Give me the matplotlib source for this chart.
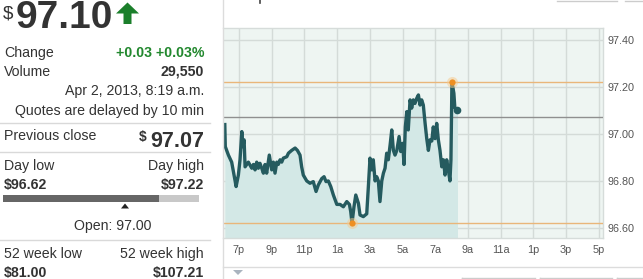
import matplotlib
matplotlib.use("Agg")
import matplotlib.pyplot as plt
from matplotlib.patches import Polygon, Rectangle
from matplotlib.lines import Line2D

plt.rcParams["font.family"] = ["Liberation Sans", "DejaVu Sans"]

W, H = 643, 279

# quote panel values
price = "97.10"
change_txt = "+0.03 +0.03%"
volume = "29,550"
stamp = "Apr 2, 2013, 8:19 a.m."
prev_close = 97.07
day_low, day_high = 96.62, 97.22
open_price = 97.00
wk52_low, wk52_high = 81.00, 107.21

# intraday series: hours since midnight of the previous day
hours = [18.13, 18.16, 18.35, 18.55, 18.76, 18.82, 18.96, 19.06, 19.17, 19.23,
         19.31, 19.37, 19.57, 19.78, 19.88, 19.98, 20.08, 20.18, 20.28, 20.39,
         20.49, 20.59, 20.69, 20.85, 21.00, 21.10, 21.20, 21.31, 21.40, 21.51,
         21.61, 21.71, 21.92, 22.02, 22.22, 22.43, 22.57, 22.73, 22.83, 22.93,
         23.14, 23.34, 23.54, 23.71, 23.85, 24.06, 24.20, 24.32, 24.46, 24.61,
         24.77, 24.98, 25.18, 25.38, 25.59, 25.75, 25.83, 25.91, 26.03, 26.14,
         26.30, 26.40, 26.60, 26.81, 26.91, 27.01, 27.12, 27.21, 27.32, 27.42,
         27.52, 27.62, 27.73, 27.83, 27.93, 28.03, 28.13, 28.24, 28.34, 28.44,
         28.54, 28.65, 28.79, 28.89, 29.01, 29.09, 29.17, 29.26, 29.35, 29.46,
         29.56, 29.66, 29.76, 29.87, 29.97, 30.07, 30.17, 30.27, 30.38, 30.48,
         30.58, 30.68, 30.79, 30.88, 30.99, 31.09, 31.19, 31.29, 31.40, 31.50,
         31.60, 31.70, 31.80, 31.90, 31.96, 32.02, 32.14, 32.20, 32.36]
prices = [97.04, 96.946, 96.91, 96.88, 96.80, 96.776, 96.825, 96.89, 97.01, 96.946,
          96.975, 96.86, 96.88, 96.854, 96.87, 96.847, 96.88, 96.854, 96.875, 96.854,
          96.833, 96.87, 96.833, 96.91, 96.847, 96.88, 96.833, 96.88, 96.87, 96.89,
          96.88, 96.897, 96.903, 96.918, 96.93, 96.94, 96.93, 96.91, 96.86, 96.825,
          96.80, 96.79, 96.797, 96.755, 96.783, 96.81, 96.818, 96.797, 96.80, 96.776,
          96.74, 96.70, 96.70, 96.69, 96.712, 96.70, 96.67, 96.62, 96.69, 96.74,
          96.705, 96.655, 96.648, 96.66, 96.776, 96.897, 96.847, 96.89, 96.80, 96.818,
          96.80, 96.712, 96.80, 96.833, 96.854, 96.918, 96.89, 96.953, 97.017, 96.93,
          96.91, 96.93, 96.989, 96.925, 96.96, 96.87, 97.03, 97.095, 97.017, 97.145,
          97.11, 97.145, 97.13, 97.152, 97.166, 97.123, 97.145, 97.123, 97.045, 96.98,
          96.93, 96.975, 96.97, 97.03, 96.98, 97.045, 96.975, 96.93, 96.86, 96.89,
          96.825, 96.89, 96.847, 96.80, 96.89, 97.222, 97.173, 97.11, 97.10]

x_ticks = [19, 21, 23, 25, 27, 29, 31, 33, 35, 37, 39, 41]
x_labels = ["7p", "9p", "11p", "1a", "3a", "5a", "7a", "9a", "11a", "1p", "3p", "5p"]
y_ticks = [96.60, 96.80, 97.00, 97.20, 97.40]

fig = plt.figure(figsize=(W / 100, H / 100), dpi=100)
fig.patch.set_facecolor("white")


def fx(x):
    return x / W


def fy(y):
    return 1 - y / H


def txt(x, y, s, ha="left", size=10.2, weight="normal", color="#333333"):
    fig.text(fx(x), fy(y), s, ha=ha, va="baseline", fontsize=size,
             fontweight=weight, color=color)


def hline(x0, x1, y, color="#d9d9d9", lw=1.0):
    fig.add_artist(Line2D([fx(x0), fx(x1)], [fy(y), fy(y)], color=color, lw=lw))


def vline(x, y0, y1, color="#d9d9d9", lw=1.0):
    fig.add_artist(Line2D([fx(x), fx(x)], [fy(y0), fy(y1)], color=color, lw=lw))


# ---- quote panel ----
green = "#22882e"
txt(3, 18.5, "$", size=13.5, color="#333333")
txt(16, 28.3, price, size=28, weight="bold", color="#333333")
arrow = [(116, 13.5), (127.5, 2.5), (139, 13.5), (131.5, 13.5), (131.5, 24), (123.5, 24), (123.5, 13.5)]
fig.add_artist(Polygon([(fx(a), fy(b)) for a, b in arrow], closed=True,
                       facecolor="#1b7f2b", edgecolor="none"))

R = 204
txt(4, 57, "Change")
txt(R, 57, change_txt, ha="right", weight="bold", color=green)
txt(4, 76, "Volume")
txt(R, 76, volume, ha="right", weight="bold")
txt(R, 95, stamp, ha="right")
txt(R, 115, "Quotes are delayed by 10 min", ha="right")
hline(0, 210, 123)

txt(4, 140.5, "Previous close")
txt(R, 147, f"{prev_close:.2f}", ha="right", size=15.5, weight="bold")
txt(147, 141, "$", ha="right", size=10, weight="bold")
hline(0, 210, 152)

txt(4, 170, "Day low")
txt(R, 170, "Day high", ha="right")
txt(4, 189.5, f"${day_low:.2f}", weight="bold")
txt(R, 189.5, f"${day_high:.2f}", ha="right", weight="bold")

# day range bar
bar_x0, bar_x1 = 3, 199
fig.add_artist(Rectangle((fx(bar_x0), fy(202)), fx(bar_x1 - bar_x0), 7 / H,
                         facecolor="#c8c8c8", edgecolor="none"))
fig.add_artist(Rectangle((fx(bar_x0), fy(202)), fx(159 - bar_x0), 7 / H,
                         facecolor="#666666", edgecolor="none"))
tri = [(121, 208.5), (129, 208.5), (125, 203.5)]
fig.add_artist(Polygon([(fx(a), fy(b)) for a, b in tri], closed=True,
                       facecolor="#222222", edgecolor="none"))
txt(113, 230, f"Open: {open_price:.2f}", ha="center")
hline(0, 210, 240)

txt(4, 258, "52 week low")
txt(R, 258, "52 week high", ha="right")
txt(4, 277, f"${wk52_low:.2f}", weight="bold")
txt(R, 277, f"${wk52_high:.2f}", ha="right", weight="bold")

# ---- chart frame decorations ----
vline(223, 0, 279, color="#dcdcdc")
hline(223, 643, 267, color="#dcdcdc")
tri2 = [(233, 270), (243, 270), (238, 275)]
fig.add_artist(Polygon([(fx(a), fy(b)) for a, b in tri2], closed=True,
                       facecolor="#aab4bf", edgecolor="none"))
for b0, b1 in [(557, 617), (625, 650)]:
    hline(b0, b1, 1, color="#cccccc")
for b0, b1 in [(462, 535), (540, 612), (617, 650)]:
    hline(b0, b1, 277.5, color="#cccccc")
    vline(b0, 277.5, 279, color="#cccccc")
vline(260, 0, 3, color="#444444", lw=1.2)

# ---- price chart ----
ax = fig.add_axes([fx(223.5), fy(238), (603 - 223.5) / W, (238 - 28) / H])
ax.set_facecolor("#eef5f2")
ymin, ymax = 96.557, 97.451
ax.set_xlim(18.05, 41.26)
ax.set_ylim(ymin, ymax)

for t in x_ticks:
    ax.axvline(t, color="#d4dbd8", lw=1, zorder=1)
for v in y_ticks:
    ax.axhline(v, color="#d4dbd8", lw=1, zorder=1)

ax.fill_between(hours, prices, ymin, color="#d3e8e6", lw=0, zorder=2)
ax.axhline(day_high, color="#e9b67a", lw=1, zorder=3)
ax.axhline(day_low, color="#e9b67a", lw=1, zorder=3)
ax.axhline(prev_close, color="#8f8f8f", lw=1, zorder=3)
ax.plot(hours, prices, color="#255b5f", lw=2.4, solid_joinstyle="round", zorder=4)

i_lo = prices.index(min(prices))
i_hi = prices.index(max(prices))
for i in (i_lo, i_hi):
    ax.plot(hours[i], prices[i], "o", ms=8, color="#f6c98c", alpha=0.5, mec="none", zorder=5)
    ax.plot(hours[i], prices[i], "o", ms=4.5, color="#ee8f22", mec="none", zorder=6)
ax.plot(hours[-1], prices[-1], "o", ms=5.5, color="#255b5f", mec="none", zorder=6)

ax.set_xticks(x_ticks)
ax.set_xticklabels(x_labels)
ax.set_yticks(y_ticks)
ax.set_yticklabels([f"{v:.2f}" for v in y_ticks])
ax.yaxis.tick_right()
ax.tick_params(axis="both", length=0, labelsize=7.8, labelcolor="#555555")
ax.tick_params(axis="x", pad=5)
ax.tick_params(axis="y", pad=3.5)
for side, sp in ax.spines.items():
    sp.set_color("#d6dcda")
    sp.set_linewidth(1)
ax.spines["left"].set_visible(False)
ax.grid(False)

fig.savefig("out.png", dpi=100, facecolor="white")
